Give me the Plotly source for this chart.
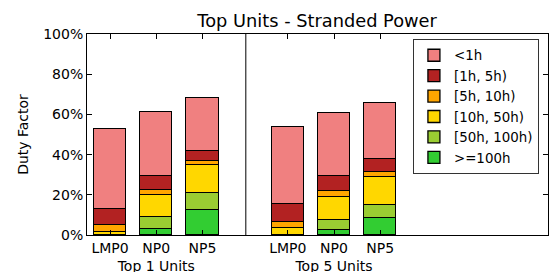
import plotly.graph_objects as go

# Data (percent of time)
categories = ["LMP0", "NP0", "NP5", "LMP0", "NP0", "NP5"]
groups = ["Top 1 Units", "Top 5 Units"]
bins = ["<1h", "[1h, 5h)", "[5h, 10h)", "[10h, 50h)", "[50h, 100h)", ">=100h"]

ge100 = [0.0, 3.2, 12.3, 0.0, 2.7, 8.5]
h50_100 = [0.0, 5.6, 8.4, 0.0, 5.0, 6.3]
h10_50 = [1.6, 11.3, 14.0, 3.5, 11.1, 14.2]
h5_10 = [3.3, 2.5, 2.3, 3.0, 3.1, 2.5]
h1_5 = [7.8, 6.8, 5.0, 8.8, 7.3, 6.5]
lt1 = [40.0, 31.8, 26.0, 38.6, 31.3, 27.5]

colors = {
    "<1h": "#F08080",
    "[1h, 5h)": "#B22222",
    "[5h, 10h)": "#FFA500",
    "[10h, 50h)": "#FFD700",
    "[50h, 100h)": "#9ACD32",
    ">=100h": "#32CD32",
}

xpos = [0.5, 1.5, 2.5, 4.35, 5.35, 6.35]
divider = 3.44

series = [
    (">=100h", ge100),
    ("[50h, 100h)", h50_100),
    ("[10h, 50h)", h10_50),
    ("[5h, 10h)", h5_10),
    ("[1h, 5h)", h1_5),
    ("<1h", lt1),
]

fig = go.Figure()
for name, vals in series:
    fig.add_trace(go.Bar(
        x=xpos, y=[v / 100 for v in vals], name=name, width=0.7,
        marker=dict(color=colors[name], line=dict(color="black", width=1.3)),
    ))

ticktext = []
for i, c in enumerate(categories):
    if i % 3 == 1:
        ticktext.append(c + "<br>" + groups[i // 3])
    else:
        ticktext.append(c)

font = "DejaVu Sans"
fig.update_layout(
    barmode="stack",
    width=552, height=272,
    margin=dict(l=87, r=4, t=34, b=37),
    paper_bgcolor="white", plot_bgcolor="white",
    font=dict(family=font, size=14, color="black"),
    title=dict(text="Top Units - Stranded Power", x=0.5745, xanchor="center",
               y=0.925, yanchor="middle", font=dict(size=17.8)),
    bargap=0,
    legend=dict(x=0.707, y=0.975, xanchor="left", yanchor="top",
                traceorder="reversed", bordercolor="#333", borderwidth=1,
                bgcolor="white", font=dict(size=13.4)),
    xaxis=dict(range=[0, 9.985], tickvals=xpos, ticktext=ticktext,
               tickangle=0, automargin=False,
               showgrid=False, zeroline=False, showline=True, linecolor="black",
               linewidth=1, mirror="ticks", ticks="inside", ticklen=5,
               tickcolor="black"),
    yaxis=dict(range=[0, 1], tickvals=[0, 0.2, 0.4, 0.6, 0.8, 1.0],
               ticktext=["0%", "20%", "40%", "60%", "80%", "100%"],
               title=dict(text="Duty Factor", standoff=11, font=dict(size=14)),
               automargin=False,
               showgrid=False, zeroline=False, showline=True, linecolor="black",
               linewidth=1, mirror="ticks", ticks="inside", ticklen=5,
               tickcolor="black"),
    shapes=[dict(type="line", xref="x", yref="paper", x0=divider, x1=divider,
                 y0=0, y1=1, line=dict(color="black", width=1))],
)

fig.write_html(
    "out.html",
    config={"displayModeBar": False},
    post_script="document.body.style.margin='0';document.body.style.overflow='hidden';",
)
